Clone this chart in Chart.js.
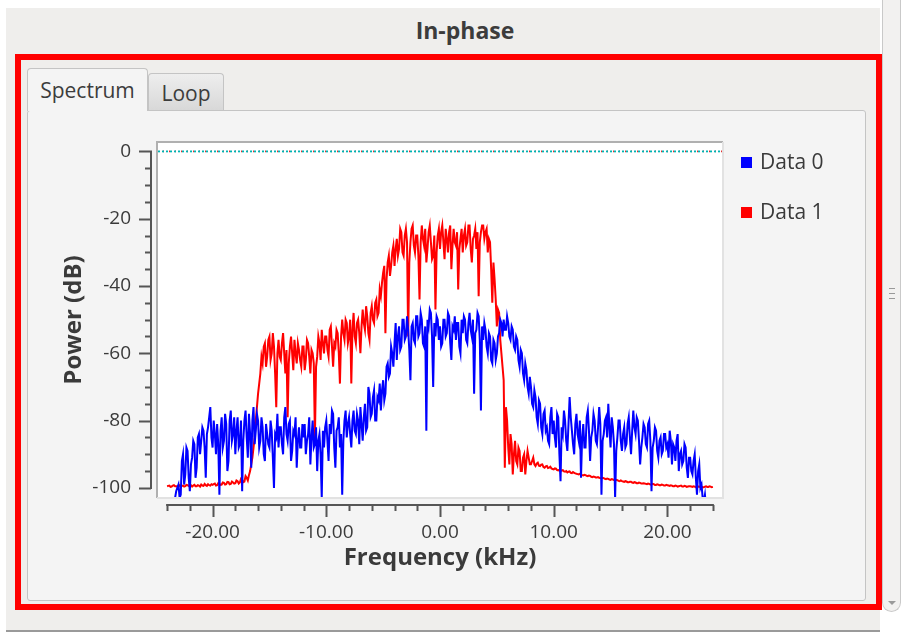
<!DOCTYPE html>
<html>
<head>
<meta charset="utf-8">
<script src="https://cdn.jsdelivr.net/npm/chart.js@4.4.1/dist/chart.umd.min.js"></script>
<style>
  body { margin: 0; width: 914px; height: 635px; background: #fff; position: relative; overflow: hidden;
         font-family: 'Open Sans', 'Noto Sans', sans-serif; color: #3c3c3c; }
  #win { position: absolute; left: 6px; top: 8px; width: 874px; height: 622px; background: #efeeec;
         border-bottom: 2px solid #9a9a9a; }
  #title { position: absolute; left: 0; width: 930px; top: 14px; text-align: center; font-weight: bold; font-size: 23px; line-height: 32px; }
  #redbox { position: absolute; left: 15px; top: 54px; width: 867px; height: 556px; box-sizing: border-box; border: 6px solid #ff0000; }
  #pane { position: absolute; left: 27px; top: 110px; width: 839px; height: 491px; box-sizing: border-box;
          background: #f4f4f4; border: 1px solid #c4c4c4; border-radius: 3px; }
  .tab { position: absolute; box-sizing: border-box; border: 1px solid #c4c4c4; border-bottom: none;
         border-radius: 4px 4px 0 0; font-size: 21px; text-align: center; }
  #tab1 { left: 27px; top: 68px; width: 121px; height: 43px; background: #f4f4f4; line-height: 42px; z-index: 2; }
  #tab2 { left: 148px; top: 73px; width: 76px; height: 37px; background: linear-gradient(#eeeeee, #d8d8d8); line-height: 38px; }
  #scroll { position: absolute; left: 882px; top: 0px; width: 19px; height: 612px; box-sizing: border-box;
            border: 1px solid #c9c9c9; border-top: none; border-radius: 0 0 10px 10px; background: #f2f1f0; }
  #grip { position: absolute; left: 6px; top: 288px; width: 6px; height: 9px;
          border-top: 1px solid #999; border-bottom: 1px solid #999; }
  #grip::after { content: ''; position: absolute; left: 0; top: 4px; width: 6px; height: 1px; background: #999; }
  #arrow { position: absolute; left: 5px; bottom: 6px; width: 0; height: 0;
           border-left: 4px solid transparent; border-right: 4px solid transparent; border-top: 4px solid #9a9a9a; }
  #plot { position: absolute; left: 28px; top: 111px; }
</style>
</head>
<body>
<div id="win"></div>
<div id="title">In-phase</div>
<div id="redbox"></div>
<div id="pane"></div>
<div class="tab" id="tab1">Spectrum</div>
<div class="tab" id="tab2">Loop</div>
<div id="scroll"><div id="grip"></div><div id="arrow"></div></div>
<canvas id="plot" width="836" height="488"></canvas>
<script>
// FFT bins, 0.1 kHz apart, from -24 kHz to +24 kHz
const freqStart = -24;
const freqStep = 0.1;

// Data 0 (blue), dB -- one row per 2 kHz
const data0 = [
  -106, -106, -105, -105, -104, -104, -103, -103, -101, -100, -99, -103, -102, -92, -90, -99, -96, -88, -89, -97,
  -101, -93, -91, -86, -87, -97, -94, -85, -84, -90, -86, -82, -83, -88, -97, -84, -82, -79, -76, -85,
  -88, -80, -84, -90, -81, -87, -102, -83, -79, -88, -86, -78, -81, -95, -92, -80, -77, -86, -84, -79,
  -90, -83, -79, -88, -87, -80, -101, -86, -80, -77, -85, -91, -78, -84, -94, -80, -76, -87, -83, -78,
  -80, -88, -86, -79, -82, -90, -92, -81, -84, -87, -88, -80, -83, -91, -100, -84, -85, -78, -88, -82,
  -82, -87, -90, -79, -76, -84, -86, -81, -80, -92, -89, -83, -84, -79, -94, -86, -82, -88, -88, -81,
  -85, -81, -90, -86, -84, -79, -93, -85, -80, -88, -87, -82, -95, -86, -84, -90, -103, -83, -88, -82,
  -80, -86, -92, -81, -84, -77, -78, -88, -94, -83, -82, -79, -88, -84, -102, -86, -80, -77, -85, -81,
  -79, -84, -88, -80, -77, -83, -84, -78, -80, -87, -76, -81, -86, -79, -75, -83, -82, -70, -72, -79,
  -78, -73, -71, -80, -80, -73, -74, -69, -77, -71, -68, -74, -72, -64, -63, -67, -66, -58, -60, -64,
  -57, -51, -62, -55, -52, -59, -58, -50, -50, -56, -55, -49, -53, -59, -68, -52, -51, -56, -57, -49,
  -49, -55, -54, -48, -50, -57, -58, -52, -83, -50, -52, -47, -48, -55, -70, -51, -55, -49, -50, -56,
  -52, -58, -57, -50, -50, -55, -54, -48, -49, -57, -62, -52, -53, -49, -56, -51, -51, -58, -60, -50,
  -54, -49, -50, -56, -57, -51, -48, -53, -55, -50, -72, -54, -53, -48, -49, -56, -77, -52, -56, -51,
  -53, -58, -60, -54, -55, -62, -63, -56, -57, -62, -60, -55, -54, -50, -51, -55, -50, -53, -53, -49,
  -51, -55, -56, -52, -53, -58, -59, -55, -56, -62, -64, -59, -60, -66, -68, -63, -65, -70, -72, -67,
  -70, -75, -76, -71, -73, -79, -81, -74, -75, -82, -84, -78, -77, -83, -82, -86, -87, -79, -76, -84,
  -80, -85, -88, -78, -79, -90, -98, -82, -84, -77, -80, -86, -89, -81, -73, -79, -83, -87, -90, -81,
  -78, -84, -86, -80, -97, -85, -81, -88, -88, -79, -77, -83, -92, -85, -83, -78, -80, -86, -87, -82,
  -76, -81, -102, -86, -84, -80, -79, -85, -75, -82, -88, -79, -82, -87, -103, -89, -85, -80, -80, -86,
  -89, -84, -82, -88, -87, -81, -79, -85, -90, -83, -77, -82, -84, -79, -80, -86, -93, -88, -85, -81,
  -82, -87, -88, -81, -80, -86, -101, -88, -86, -82, -83, -89, -91, -86, -85, -90, -89, -84, -84, -88,
  -87, -91, -83, -86, -93, -87, -88, -92, -86, -84, -95, -90, -89, -93, -92, -87, -88, -94, -97, -91,
  -91, -95, -96, -92, -90, -97, -102, -95, -93, -100, -99, -103, -104, -102, -106, -105, -107, -106, -108, -108,
  -108
];

// Data 1 (red), dB -- one row per 2 kHz
const data1 = [
  -99.5, -99.4, -99.3, -99.7, -99.6, -99.3, -99.2, -99.5, -99.5, -99.6, -99.4, -99.2, -99.7, -99.4, -99.3, -99.6, -99.5, -99.1, -99.2, -99.4,
  -99.4, -99.2, -99.6, -99.3, -99.1, -99.5, -99.5, -99.2, -99.3, -99.6, -99.0, -99.3, -99.4, -98.8, -99.2, -99.4, -98.9, -99.2, -99.3, -98.9,
  -99.1, -98.9, -98.7, -99.3, -99.2, -98.6, -98.8, -99.1, -99.0, -98.4, -98.5, -99.0, -98.9, -98.2, -98.3, -98.9, -98.8, -98.1, -98.4, -98.7,
  -98.6, -97.8, -98.0, -98.7, -98.4, -97.3, -97.6, -98.3, -98.1, -96.5, -97.0, -97.8, -96.2, -95.0, -93.0, -91.0, -88.0, -85.0, -80.0, -76.0,
  -72, -69, -66, -61, -63, -58, -57, -64, -61, -56, -55, -62, -60, -54, -58, -66, -76, -60, -56, -61,
  -62, -57, -54, -60, -66, -59, -79, -63, -58, -55, -60, -65, -56, -60, -63, -57, -59, -62, -64, -58,
  -58, -65, -62, -56, -57, -61, -66, -59, -60, -63, -85, -64, -61, -55, -57, -62, -53, -57, -60, -55,
  -55, -59, -61, -53, -52, -58, -64, -57, -58, -53, -54, -60, -69, -55, -50, -54, -56, -50, -51, -57,
  -55, -50, -69, -53, -48, -55, -57, -51, -50, -54, -60, -52, -47, -51, -53, -46, -49, -54, -56, -48,
  -46, -50, -51, -45, -44, -49, -48, -41, -43, -39, -36, -34, -54, -38, -33, -31, -37, -34, -30, -28,
  -34, -29, -26, -31, -29, -23, -24, -30, -31, -25, -23, -27, -55, -33, -27, -23, -22, -28, -30, -25,
  -25, -31, -44, -27, -22, -26, -28, -23, -33, -29, -24, -22, -27, -32, -31, -25, -47, -30, -25, -23,
  -29, -24, -22, -27, -32, -23, -26, -30, -24, -22, -35, -28, -23, -27, -28, -24, -41, -29, -26, -23,
  -30, -25, -23, -28, -27, -22, -22, -29, -33, -26, -25, -23, -29, -24, -43, -27, -24, -22, -22, -26,
  -24, -23, -30, -26, -27, -35, -45, -33, -38, -44, -52, -47, -48, -56, -60, -64, -68, -94, -76, -80,
  -88, -93, -84, -87, -96, -90, -86, -92, -93, -88, -89, -95, -95, -91, -90, -96, -92, -89, -91, -93,
  -93, -92, -91, -93, -93.5, -92.8, -92.5, -93.4, -93.5, -93.1, -93, -93.8, -94, -93.6, -93.5, -94.1, -94, -93.7, -94.2, -94.4,
  -94.5, -94.2, -94.3, -94.7, -94.8, -94.6, -95, -94.8, -94.7, -95.1, -95.2, -95, -95.4, -95.2, -95.1, -95.5, -95.6, -95.3, -95.5, -95.7,
  -95.8, -95.9, -96, -95.8, -95.9, -96.2, -96.3, -96.1, -96.2, -96.4, -96.5, -96.3, -96.4, -96.7, -96.8, -96.6, -96.7, -96.9, -96.9, -96.8,
  -97, -97.1, -97.2, -97, -97.1, -97.3, -97.4, -97.2, -97.3, -97.5, -97.6, -97.4, -97.5, -97.7, -97.8, -97.6, -97.7, -97.9, -98, -97.8,
  -98, -98.1, -98.2, -98, -98.1, -98.3, -98.3, -98.2, -98.2, -98.4, -98.5, -98.3, -98.4, -98.6, -98.6, -98.4, -98.5, -98.7, -98.7, -98.6,
  -98.7, -98.8, -98.9, -98.7, -98.8, -99, -99, -98.8, -98.9, -99.1, -99.1, -98.9, -99, -99.2, -99.2, -99, -99.1, -99.3, -99.3, -99.1,
  -99.2, -99.3, -99.4, -99.2, -99.3, -99.5, -99.5, -99.3, -99.4, -99.6, -99.5, -99.4, -99.3, -99.6, -99.6, -99.4, -99.5, -99.7, -99.6, -99.5,
  -99.5, -99.6, -99.7, -99.5, -99.6, -99.8, -99.4, -99.6, -99.7, -99.5, -99.6, -99.8, -99.8, -99.6, -99.5, -99.7, -99.7, -99.5, -99.6, -99.8,
  -99.7
];

// reference line at the top of the scale
const refLine = [0, 0];

const xTicks = [-20, -10, 0, 10, 20];
const yTicks = [0, -20, -40, -60, -80, -100];

const toPoints = arr => arr.map((v, i) => ({ x: +(freqStart + i * freqStep).toFixed(2), y: v }));

const textColor = '#3a3a3a';
const tickFont = { family: "'Open Sans', sans-serif", size: 19 };
const titleFont = { family: "'Open Sans', sans-serif", size: 24, weight: 'bold' };

// Qwt-like frame, scale backbones, minor ticks and the legend on the right
const qwtLook = {
  id: 'qwtLook',
  beforeDraw(chart) {
    const { ctx, chartArea: a } = chart;
    ctx.save();
    ctx.fillStyle = '#ffffff';
    ctx.fillRect(a.left, a.top, a.right - a.left, a.bottom - a.top);
    ctx.restore();
  },
  afterDraw(chart) {
    const { ctx, chartArea: a, scales: { x, y } } = chart;
    ctx.save();
    // sunken canvas frame
    ctx.lineWidth = 2;
    ctx.strokeStyle = '#b0b0b0';
    ctx.beginPath();
    ctx.moveTo(a.left - 1, a.bottom + 1);
    ctx.lineTo(a.left - 1, a.top - 1);
    ctx.lineTo(a.right + 1, a.top - 1);
    ctx.stroke();
    ctx.strokeStyle = '#e2e2e2';
    ctx.beginPath();
    ctx.moveTo(a.right + 1, a.top - 1);
    ctx.lineTo(a.right + 1, a.bottom + 1);
    ctx.lineTo(a.left - 1, a.bottom + 1);
    ctx.stroke();

    ctx.strokeStyle = '#555555';
    ctx.lineWidth = 2;
    // y scale
    const bx = a.left - 7;
    ctx.beginPath();
    ctx.moveTo(bx, y.getPixelForValue(0) - 1);
    ctx.lineTo(bx, y.getPixelForValue(-100) + 1);
    for (let v = 0; v >= -100; v -= 5) {
      const py = Math.round(y.getPixelForValue(v)) + 0.5;
      const len = yTicks.includes(v) ? 12 : 6;
      ctx.moveTo(bx, py);
      ctx.lineTo(bx - len, py);
    }
    ctx.stroke();
    // x scale
    const by = a.bottom + 8;
    ctx.beginPath();
    ctx.moveTo(x.getPixelForValue(-24) - 1, by);
    ctx.lineTo(x.getPixelForValue(24) + 1, by);
    for (let v = -24; v <= 24; v += 2) {
      const px = Math.round(x.getPixelForValue(v)) + 0.5;
      const len = xTicks.includes(v) ? 12 : 6;
      ctx.moveTo(px, by);
      ctx.lineTo(px, by + len);
    }
    ctx.stroke();

    // legend
    ctx.font = "21px 'Open Sans', sans-serif";
    ctx.textBaseline = 'middle';
    [0, 1].forEach(i => {
      const ds = chart.data.datasets[i];
      const ly = a.top + 20 + i * 50;
      ctx.fillStyle = ds.borderColor;
      ctx.fillRect(a.right + 19, ly - 6, 11, 11);
      ctx.fillStyle = textColor;
      ctx.fillText(ds.label, a.right + 38, ly);
    });
    ctx.restore();
  }
};

new Chart(document.getElementById('plot'), {
  type: 'line',
  data: {
    datasets: [
      { label: 'Data 0', data: toPoints(data0), borderColor: '#0000ff', borderWidth: 2 },
      { label: 'Data 1', data: toPoints(data1), borderColor: '#ff0000', borderWidth: 2 },
      { label: 'ref', data: [{ x: -24.8, y: refLine[0] }, { x: 24.8, y: refLine[1] }],
        borderColor: '#00b4b4', borderWidth: 1.8, borderDash: [2, 2] },
      { label: 'ref2', data: [{ x: -24.8, y: refLine[0] }, { x: 24.8, y: refLine[1] }],
        borderColor: '#e03030', borderWidth: 1.8, borderDash: [1, 5], borderDashOffset: 1 }
    ]
  },
  options: {
    responsive: false,
    animation: false,
    events: [],
    elements: { point: { radius: 0 }, line: { tension: 0 } },
    layout: { padding: { left: 32, right: 142, top: 32, bottom: 26 } },
    plugins: { legend: { display: false }, tooltip: { enabled: false } },
    scales: {
      x: {
        type: 'linear', min: -24.8, max: 24.8,
        afterBuildTicks: s => { s.ticks = xTicks.map(v => ({ value: v })); },
        afterFit: s => { s.height = 76; s.paddingLeft = 0; s.paddingRight = 0; },
        grid: { display: false, drawTicks: false },
        border: { display: false },
        ticks: { font: tickFont, color: textColor, padding: 24, maxRotation: 0,
                 callback: v => v.toFixed(2) },
        title: { display: true, text: 'Frequency (kHz)', font: titleFont, color: textColor, padding: 0 }
      },
      y: {
        type: 'linear', min: -102.7, max: 2.5,
        afterBuildTicks: s => { s.ticks = yTicks.map(v => ({ value: v })); },
        afterFit: s => { s.width = 98; s.paddingTop = 0; s.paddingBottom = 0; },
        grid: { display: false, drawTicks: false },
        border: { display: false },
        ticks: { font: tickFont, color: textColor, padding: 27, callback: v => String(v) },
        title: { display: true, text: 'Power (dB)', font: titleFont, color: textColor, padding: 0 }
      }
    }
  },
  plugins: [qwtLook]
});
</script>
</body>
</html>
